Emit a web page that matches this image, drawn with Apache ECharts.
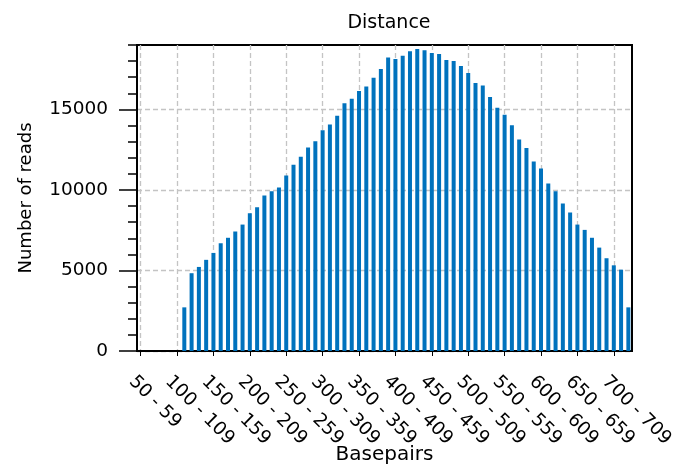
<!DOCTYPE html>
<html>
<head>
<meta charset="utf-8">
<script src="https://cdn.jsdelivr.net/npm/echarts@6/dist/echarts.min.js"></script>
<style>
  html, body { margin: 0; padding: 0; background: #ffffff; }
  #chart { width: 677px; height: 466px; }
</style>
</head>
<body>
<div id="chart"></div>
<script>
// Insert-size bins (bp), 10 bp wide
const binLabels = [
  '50 - 59', '60 - 69', '70 - 79', '80 - 89', '90 - 99',
  '100 - 109', '110 - 119', '120 - 129', '130 - 139', '140 - 149',
  '150 - 159', '160 - 169', '170 - 179', '180 - 189', '190 - 199',
  '200 - 209', '210 - 219', '220 - 229', '230 - 239', '240 - 249',
  '250 - 259', '260 - 269', '270 - 279', '280 - 289', '290 - 299',
  '300 - 309', '310 - 319', '320 - 329', '330 - 339', '340 - 349',
  '350 - 359', '360 - 369', '370 - 379', '380 - 389', '390 - 399',
  '400 - 409', '410 - 419', '420 - 429', '430 - 439', '440 - 449',
  '450 - 459', '460 - 469', '470 - 479', '480 - 489', '490 - 499',
  '500 - 509', '510 - 519', '520 - 529', '530 - 539', '540 - 549',
  '550 - 559', '560 - 569', '570 - 579', '580 - 589', '590 - 599',
  '600 - 609', '610 - 619', '620 - 629', '630 - 639', '640 - 649',
  '650 - 659', '660 - 669', '670 - 679', '680 - 689', '690 - 699',
  '700 - 709', '710 - 719', '720 - 729'
];

// First bin that holds reads
const firstFilledBin = '110 - 119';

// Read counts per bin, from 110 - 119 up to 720 - 729
const readCounts = [
  2710, 4830, 5220, 5660, 6090, 6690, 7030, 7420, 7850, 8560,
  8930, 9660, 9920, 10150, 10900, 11560, 12060, 12640, 13030, 13700,
  14070, 14610, 15390, 15670, 16140, 16430, 16970, 17510, 18220, 18130,
  18340, 18610, 18750, 18670, 18500, 18440, 18070, 18000, 17690, 17260,
  16640, 16480, 15770, 15110, 14670, 14010, 13140, 12600, 11770, 11330,
  10400, 9920, 9160, 8600, 7850, 7520, 7030, 6420, 5760, 5320,
  5050, 2710
];

// Labelled y ticks
const yMajorTicks = [0, 5000, 10000, 15000];
const yMax = 19000;

const startIdx = binLabels.indexOf(firstFilledBin);
const barData = binLabels.map(function (_, i) {
  const k = i - startIdx;
  return (k >= 0 && k < readCounts.length) ? readCounts[k] : null;
});

const FONT = 'DejaVu Sans';
const gridDash = { color: '#c4c4c4', width: 1.3, type: [5, 3] };

const chart = echarts.init(document.getElementById('chart'), null, { renderer: 'canvas' });
chart.setOption({
  backgroundColor: '#ffffff',
  animation: false,
  title: {
    text: 'Distance',
    left: 384,
    top: 9,
    textAlign: 'center',
    textStyle: { fontFamily: FONT, fontSize: 19, fontWeight: 'normal', color: '#000' }
  },
  grid: {
    left: 137, right: 45, top: 45, bottom: 115,
    containLabel: false,
    outerBoundsMode: 'none',
    show: true, borderColor: '#000', borderWidth: 2, backgroundColor: 'transparent'
  },
  xAxis: [
    {
      type: 'category',
      data: binLabels,
      boundaryGap: true,
      position: 'bottom',
      name: 'Basepairs',
      nameLocation: 'middle',
      nameGap: 94,
      nameMoveOverlap: false,
      nameTextStyle: { fontFamily: FONT, fontSize: 20, color: '#000' },
      axisLine: { lineStyle: { color: '#000', width: 2 } },
      axisTick: { show: false },
      axisLabel: {
        interval: 4,
        rotate: -45,
        margin: 19,
        align: 'left',
        verticalAlign: 'top',
        lineHeight: 25,
        hideOverlap: false,
        fontFamily: FONT,
        fontSize: 18.5,
        color: '#000'
      },
      splitLine: { show: true, interval: 4, alignWithLabel: true, lineStyle: gridDash }
    },
    {
      type: 'category',
      data: binLabels,
      boundaryGap: true,
      position: 'top',
      axisLine: { lineStyle: { color: '#000', width: 2 } },
      axisTick: { show: true, inside: true, length: 5, interval: 4, alignWithLabel: true,
                  lineStyle: { color: '#000', width: 1 } },
      axisLabel: { show: false },
      splitLine: { show: false }
    }
  ],
  yAxis: [
    {
      type: 'value',
      min: 0,
      max: yMax,
      interval: 5000,
      position: 'left',
      name: 'Number of reads',
      nameLocation: 'middle',
      nameGap: 102,
      nameMoveOverlap: false,
      nameTextStyle: { fontFamily: FONT, fontSize: 18, color: '#000' },
      axisLine: { show: true, lineStyle: { color: '#000', width: 2 } },
      axisTick: { show: true, length: 18, customValues: yMajorTicks,
                  lineStyle: { color: '#000', width: 1.5 } },
      axisLabel: {
        customValues: yMajorTicks, margin: 29,
        formatter: function (v) { return String(v); },
        fontFamily: FONT, fontSize: 18.5, color: '#000'
      },
      splitLine: { show: true, lineStyle: gridDash }
    },
    {
      type: 'value',
      min: 0,
      max: yMax,
      interval: 1000,
      position: 'left',
      axisLine: { show: false },
      axisTick: { show: true, length: 9, lineStyle: { color: '#000', width: 1.5 } },
      axisLabel: { show: false },
      splitLine: { show: false }
    }
  ],
  series: [
    {
      name: 'Reads',
      type: 'bar',
      xAxisIndex: 0,
      yAxisIndex: 0,
      data: barData,
      barWidth: 4,
      itemStyle: { color: '#0072bd' },
      z: 3
    }
  ]
});
</script>
</body>
</html>
